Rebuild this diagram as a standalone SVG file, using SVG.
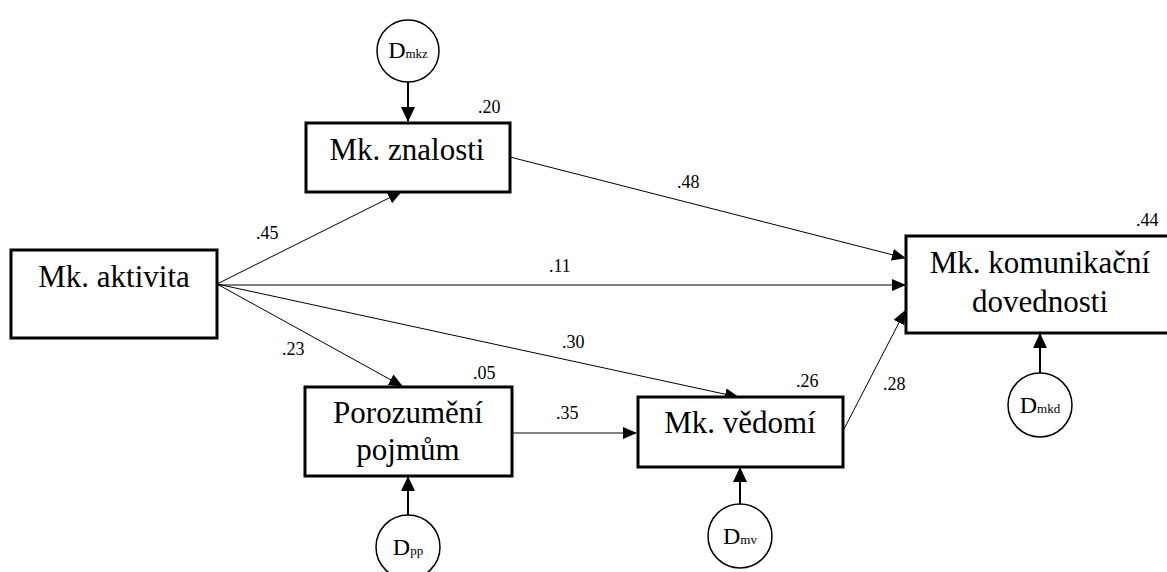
<svg xmlns="http://www.w3.org/2000/svg" width="1167" height="572" viewBox="0 0 1167 572">
  <style>
    text { font-family: "Liberation Serif", "Times New Roman", Times, serif; fill: #000; }
    .box { fill: #fff; stroke: #000; stroke-width: 3; }
    .dist { fill: #fff; stroke: #000; stroke-width: 1.5; }
    .name { font-size: 31px; text-anchor: middle; }
    .coef { font-size: 18px; }
    .dlab { font-size: 24px; text-anchor: middle; }
    .sub { font-size: 13px; }
    .path { stroke: #000; stroke-width: 1; fill: none; marker-end: url(#head); }
    .err { stroke: #000; stroke-width: 2; fill: none; marker-end: url(#headBig); }
  </style>
  <defs>
    <marker id="head" markerUnits="userSpaceOnUse" markerWidth="14" markerHeight="12" refX="13" refY="6" orient="auto">
      <path d="M0,0 L14,6 L0,12 z" fill="#000"/>
    </marker>
    <marker id="headBig" markerUnits="userSpaceOnUse" markerWidth="15" markerHeight="14" refX="14" refY="7" orient="auto">
      <path d="M0,0 L15,7 L0,14 z" fill="#000"/>
    </marker>
  </defs>
  <rect width="1167" height="572" fill="#fff"/>

  <!-- structural paths and disturbance arrows -->
  <g id="connectors">
    <line class="path" x1="217" y1="284" x2="401" y2="192"/>
    <line class="path" x1="217" y1="285" x2="905" y2="285"/>
    <line class="path" x1="217" y1="284" x2="402" y2="386"/>
    <line class="path" x1="217" y1="284" x2="738" y2="397"/>
    <line class="path" x1="510" y1="157" x2="905" y2="258"/>
    <line class="path" x1="512" y1="433" x2="636" y2="433"/>
    <line class="path" x1="843" y1="431" x2="905" y2="311"/>
    <line class="err" x1="408" y1="82" x2="408" y2="121"/>
    <line class="err" x1="408" y1="515" x2="408" y2="477"/>
    <line class="err" x1="740" y1="504" x2="740" y2="468"/>
    <line class="err" x1="1040" y1="373" x2="1040" y2="334"/>
  </g>

  <!-- path coefficients and R-squared values -->
  <g id="coefficients">
    <text class="coef" x="478" y="113">.20</text>
    <text class="coef" x="256" y="239">.45</text>
    <text class="coef" x="677" y="188">.48</text>
    <text class="coef" x="549" y="272">.11</text>
    <text class="coef" x="1136" y="226">.44</text>
    <text class="coef" x="282" y="355">.23</text>
    <text class="coef" x="562" y="348">.30</text>
    <text class="coef" x="473" y="379">.05</text>
    <text class="coef" x="796" y="387">.26</text>
    <text class="coef" x="556" y="419">.35</text>
    <text class="coef" x="883" y="390">.28</text>
  </g>

  <g id="aktivita">
    <rect class="box" x="11" y="250" width="206" height="88"/>
    <text class="name" x="114" y="287">Mk. aktivita</text>
  </g>

  <g id="znalosti">
    <rect class="box" x="306" y="123" width="204" height="69"/>
    <text class="name" x="407" y="160">Mk. znalosti</text>
  </g>

  <g id="porozumeni">
    <rect class="box" x="305" y="387" width="207" height="89"/>
    <text class="name" x="408" y="423">Porozumění</text>
    <text class="name" x="408" y="460">pojmům</text>
  </g>

  <g id="vedomi">
    <rect class="box" x="638" y="397" width="205" height="70"/>
    <text class="name" x="740" y="433">Mk. vědomí</text>
  </g>

  <g id="komunikacni">
    <rect class="box" x="906" y="236" width="270" height="97"/>
    <text class="name" x="1040" y="273">Mk. komunikační</text>
    <text class="name" x="1040" y="312">dovednosti</text>
  </g>

  <g id="d-mkz">
    <circle class="dist" cx="408" cy="51" r="31"/>
    <text class="dlab" x="408" y="58">D<tspan class="sub">mkz</tspan></text>
  </g>

  <g id="d-pp">
    <circle class="dist" cx="408" cy="547" r="32"/>
    <text class="dlab" x="408" y="555">D<tspan class="sub">pp</tspan></text>
  </g>

  <g id="d-mv">
    <circle class="dist" cx="740" cy="536" r="32"/>
    <text class="dlab" x="740" y="544">D<tspan class="sub">mv</tspan></text>
  </g>

  <g id="d-mkd">
    <circle class="dist" cx="1040" cy="405" r="32"/>
    <text class="dlab" x="1040" y="413">D<tspan class="sub">mkd</tspan></text>
  </g>
</svg>
